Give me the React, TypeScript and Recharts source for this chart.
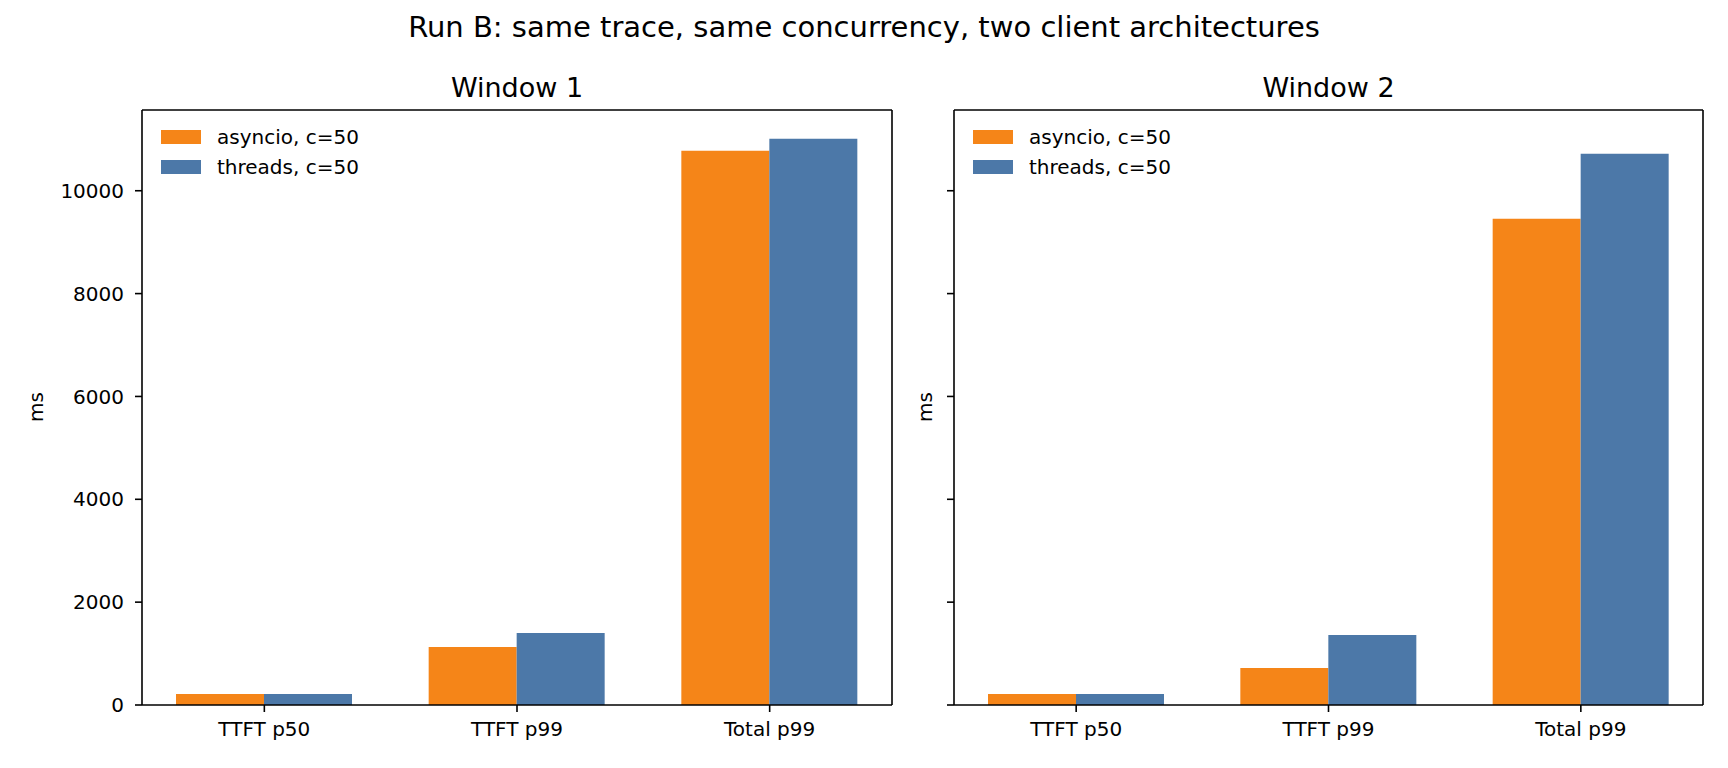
import { BarChart, Bar, XAxis, YAxis, Legend } from 'recharts';

// values (ms)
const categories = ['TTFT p50', 'TTFT p99', 'Total p99'];
const window1Asyncio = [214, 1128, 10778];
const window1Threads = [214, 1401, 11012];
const window2Asyncio = [214, 720, 9455];
const window2Threads = [214, 1362, 10720];
const yTicks = [0, 2000, 4000, 6000, 8000, 10000];
const yMax = 11570;

const ORANGE = '#F58518';
const BLUE = '#4C78A8';
const FONT = '"DejaVu Sans", sans-serif';

const buildRows = (asyncio: number[], threads: number[]) =>
  categories.map((name, i) => ({ name, asyncio: asyncio[i], threads: threads[i] }));

const renderLegend = (props: any) => (
  <div style={{ fontFamily: FONT, fontSize: 20, color: '#000' }}>
    {(props.payload || []).map((entry: any) => (
      <div key={entry.value} style={{ display: 'flex', alignItems: 'center', height: 30 }}>
        <span style={{ display: 'inline-block', width: 40, height: 14, background: entry.color, marginRight: 16 }} />
        <span style={{ lineHeight: '30px' }}>{entry.value}</span>
      </div>
    ))}
  </div>
);

// shared y axis: the second panel keeps its tick marks but drops the labels
const emptyTick = () => <g />;

interface PanelProps {
  asyncio: number[];
  threads: number[];
  left: number;
  width: number;
  marginRight: number;
  showYLabels: boolean;
}

const Panel = ({ asyncio, threads, left, width, marginRight, showYLabels }: PanelProps) => {
  const data = buildRows(asyncio, threads);
  return (
    <div style={{ position: 'absolute', left, top: 0 }}>
      <BarChart
        width={width}
        height={768}
        data={data}
        margin={{ top: 109, right: marginRight, bottom: 23, left: 0 }}
        barGap={0}
        barSize={88}
      >
        <XAxis
          dataKey="name"
          padding={{ left: -4, right: -4 }}
          height={40}
          tickSize={7}
          tickMargin={10}
          tick={{ fill: '#000', fontSize: 20, fontFamily: FONT }}
          axisLine={{ stroke: '#000', strokeWidth: 1.6 }}
          tickLine={{ stroke: '#000', strokeWidth: 1.6 }}
        />
        <XAxis
          xAxisId="top"
          dataKey="name"
          orientation="top"
          height={1}
          tick={false}
          tickLine={false}
          axisLine={{ stroke: '#000', strokeWidth: 1.6 }}
        />
        <YAxis
          type="number"
          domain={[0, yMax]}
          ticks={yTicks}
          allowDataOverflow
          width={142}
          tickSize={7}
          tickMargin={11}
          tick={showYLabels ? { fill: '#000', fontSize: 20, fontFamily: FONT } : emptyTick}
          axisLine={{ stroke: '#000', strokeWidth: 1.6 }}
          tickLine={{ stroke: '#000', strokeWidth: 1.6 }}
        />
        <YAxis
          yAxisId="r"
          orientation="right"
          domain={[0, yMax]}
          width={1}
          tick={false}
          tickLine={false}
          axisLine={{ stroke: '#000', strokeWidth: 1.6 }}
        />
        <Legend
          layout="vertical"
          align="center"
          verticalAlign="middle"
          content={renderLegend}
          wrapperStyle={{ left: 161, top: 122, width: 260, height: 60 }}
        />
        <Bar dataKey="asyncio" name="asyncio, c=50" fill={ORANGE} isAnimationActive={false} />
        <Bar dataKey="threads" name="threads, c=50" fill={BLUE} isAnimationActive={false} />
      </BarChart>
    </div>
  );
};

const App = () => (
  <div style={{ position: 'absolute', left: 0, top: 0, width: 1728, height: 768, background: '#fff', fontFamily: FONT }}>
    <svg width={1728} height={768} style={{ position: 'absolute', left: 0, top: 0 }}>
      <text x={864} y={37} textAnchor="middle" fontSize={29} fontFamily={FONT} fill="#000">
        Run B: same trace, same concurrency, two client architectures
      </text>
      <text x={517} y={97} textAnchor="middle" fontSize={27} fontFamily={FONT} fill="#000">
        Window 1
      </text>
      <text x={1328.5} y={97} textAnchor="middle" fontSize={27} fontFamily={FONT} fill="#000">
        Window 2
      </text>
      <text transform="translate(43,407) rotate(-90)" textAnchor="middle" fontSize={20} fontFamily={FONT} fill="#000">
        ms
      </text>
      <text transform="translate(932,407) rotate(-90)" textAnchor="middle" fontSize={20} fontFamily={FONT} fill="#000">
        ms
      </text>
    </svg>
    <Panel asyncio={window1Asyncio} threads={window1Threads} left={0} width={900} marginRight={7} showYLabels />
    <Panel asyncio={window2Asyncio} threads={window2Threads} left={812} width={916} marginRight={24} showYLabels={false} />
  </div>
);

export default App;
